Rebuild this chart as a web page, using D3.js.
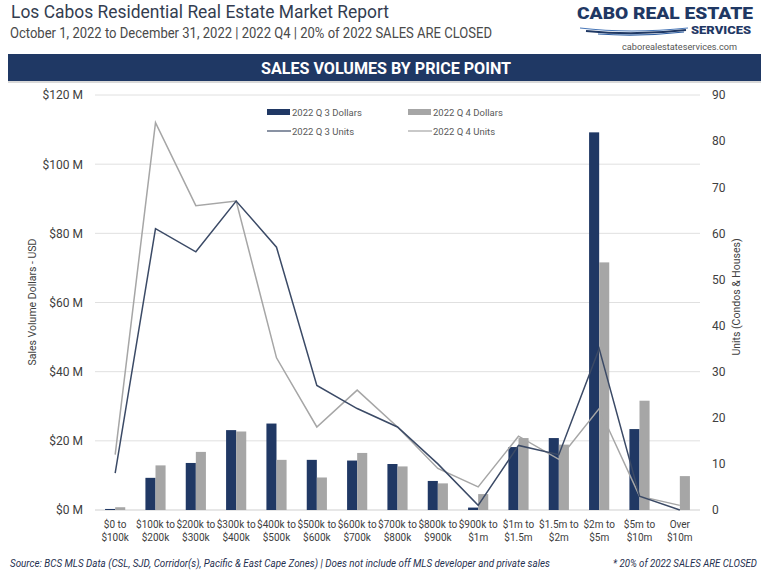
<!DOCTYPE html>
<html><head><meta charset="utf-8">
<script src="https://cdn.jsdelivr.net/npm/d3@7/dist/d3.min.js"></script>
<style>body{margin:0;background:#fff}svg{display:block;font-family:Roboto,"Open Sans",sans-serif}</style>
</head><body><svg id="c" width="768" height="588"></svg>
<script>
const categories = [["$0 to","$100k"],["$100k to","$200k"],["$200k to","$300k"],["$300k to","$400k"],["$400k to","$500k"],["$500k to","$600k"],["$600k to","$700k"],["$700k to","$800k"],["$800k to","$900k"],["$900k to","$1m"],["$1m to","$1.5m"],["$1.5m to","$2m"],["$2m to","$5m"],["$5m to","$10m"],["Over","$10m"]];
const q3Dollars = [0.3, 9.3, 13.6, 23.1, 25.0, 14.5, 14.3, 13.3, 8.4, 0.7, 18.2, 20.8, 109.2, 23.4, 0];
const q4Dollars = [0.8, 12.9, 16.8, 22.7, 14.5, 9.4, 16.5, 12.6, 7.7, 4.6, 20.8, 18.9, 71.6, 31.6, 9.8];
const q3Units = [8, 61, 56, 67, 57, 27, 22, 18, 10, 1, 14, 12, 35, 3, 0];
const q4Units = [12, 84, 66, 67, 33, 18, 26, 18, 9, 5, 16, 11, 22, 3, 1];
const leftTicks = [0, 20, 40, 60, 80, 100, 120];
const rightTicks = [0, 10, 20, 30, 40, 50, 60, 70, 80, 90];

const svg = d3.select("#c");
const navy = "#203864", gray = "#a6a6a6", lineDark = "#3b4a66";
const keys = categories.map((d,i)=>i);
const x = d3.scaleBand().domain(keys).range([95, 700]);
const yL = d3.scaleLinear().domain([0,120]).range([510, 95]);
const yR = d3.scaleLinear().domain([0,90]).range([510, 95]);

// header
svg.append("text").attr("x",11).attr("y",18).attr("font-size",19).attr("fill","#333d50")
  .attr("textLength",378).attr("lengthAdjust","spacingAndGlyphs").text("Los Cabos Residential Real Estate Market Report");
svg.append("text").attr("x",10).attr("y",37.5).attr("font-size",14).attr("fill","#4a4a4a")
  .attr("textLength",482).attr("lengthAdjust","spacingAndGlyphs").text("October 1, 2022 to December 31, 2022 | 2022 Q4 | 20% of 2022 SALES ARE CLOSED");
// logo
svg.append("text").attr("x",577).attr("y",19).attr("font-size",16.5).attr("font-weight",900).attr("fill","#1f3864")
  .attr("textLength",176).attr("lengthAdjust","spacingAndGlyphs").text("CABO REAL ESTATE");
svg.append("text").attr("x",751).attr("y",34).attr("font-size",11).attr("font-weight",900).attr("fill","#1f3864")
  .attr("text-anchor","end").attr("textLength",60).attr("lengthAdjust","spacingAndGlyphs").text("SERVICES");
const sw = svg.append("g").attr("fill","none");
sw.append("path").attr("d","M580,28 Q630,34 688,28").attr("stroke","#4a78b8").attr("stroke-width",1.2);
sw.append("path").attr("d","M586,31 Q635,36 686,30").attr("stroke","#1f3864").attr("stroke-width",2);
sw.append("path").attr("d","M598,34 Q640,37 684,32").attr("stroke","#2e5fa3").attr("stroke-width",1.2);
svg.append("text").attr("x",737).attr("y",50).attr("font-size",9.5).attr("fill","#555").attr("text-anchor","end")
  .attr("textLength",115).attr("lengthAdjust","spacingAndGlyphs").text("caborealestateservices.com");
// banner
svg.append("rect").attr("x",8).attr("y",54).attr("width",753).attr("height",27).attr("fill","#1f3864");
svg.append("rect").attr("x",8).attr("y",81).attr("width",753).attr("height",2).attr("fill","#d9d9d9");
svg.append("text").attr("x",386).attr("y",74).attr("font-size",16).attr("font-weight","bold").attr("fill","#fff")
  .attr("text-anchor","middle").attr("textLength",250).attr("lengthAdjust","spacingAndGlyphs").text("SALES VOLUMES BY PRICE POINT");

// gridlines
svg.append("g").selectAll("line").data(leftTicks).join("line")
  .attr("x1",95).attr("x2",700).attr("y1",d=>yL(d)).attr("y2",d=>yL(d))
  .attr("stroke",d=>d===0?"#cfcfcf":"#e0e0e0").attr("stroke-width",1);

// left axis
const axL = svg.append("g").attr("transform","translate(95,0)")
  .call(d3.axisLeft(yL).tickValues(leftTicks).tickSize(0).tickPadding(12).tickFormat(d=>"$"+d+" M"));
axL.select(".domain").remove();
axL.selectAll("text").attr("font-size",12).attr("fill","#404040").attr("font-family","Roboto,sans-serif");
// right axis
const axR = svg.append("g").attr("transform","translate(700,0)")
  .call(d3.axisRight(yR).tickValues(rightTicks).tickSize(0).tickPadding(12));
axR.select(".domain").remove();
axR.selectAll("text").attr("font-size",12).attr("fill","#404040").attr("font-family","Roboto,sans-serif");

// axis titles
svg.append("text").attr("transform","translate(36,302) rotate(-90)").attr("text-anchor","middle")
  .attr("font-size",10.5).attr("fill","#404040").text("Sales Volume Dollars - USD");
svg.append("text").attr("transform","translate(740,297) rotate(-90)").attr("text-anchor","middle")
  .attr("font-size",10.5).attr("fill","#404040").text("Units (Condos & Houses)");

// bars
const bw = x.bandwidth()*0.25;
const cx = i => x(i) + x.bandwidth()/2;
svg.append("g").selectAll("rect").data(q3Dollars).join("rect")
  .attr("x",(d,i)=>cx(i)-bw).attr("width",bw).attr("y",d=>yL(d)).attr("height",d=>yL(0)-yL(d)).attr("fill",navy);
svg.append("g").selectAll("rect").data(q4Dollars).join("rect")
  .attr("x",(d,i)=>cx(i)).attr("width",bw).attr("y",d=>yL(d)).attr("height",d=>yL(0)-yL(d)).attr("fill",gray);

// lines
const line = d3.line().x((d,i)=>cx(i)).y(d=>yR(d));
svg.append("path").datum(q4Units).attr("d",line).attr("fill","none").attr("stroke",gray).attr("stroke-width",1.5);
svg.append("path").datum(q3Units).attr("d",line).attr("fill","none").attr("stroke",lineDark).attr("stroke-width",1.5);

// x labels
const xl = svg.append("g").selectAll("text").data(categories).join("text")
  .attr("text-anchor","middle").attr("font-size",10).attr("fill","#404040");
xl.append("tspan").attr("x",(d,i)=>cx(i)).attr("y",528).text(d=>d[0]);
xl.append("tspan").attr("x",(d,i)=>cx(i)).attr("y",541).text(d=>d[1]);

// legend
const lg = svg.append("g").attr("font-size",9.5).attr("fill","#595959");
lg.append("rect").attr("x",267).attr("y",109).attr("width",23).attr("height",6).attr("fill",navy);
lg.append("text").attr("x",292).attr("y",115.5).text("2022 Q 3 Dollars");
lg.append("rect").attr("x",408).attr("y",109).attr("width",23).attr("height",6).attr("fill",gray);
lg.append("text").attr("x",433).attr("y",115.5).text("2022 Q 4 Dollars");
lg.append("line").attr("x1",267).attr("x2",291).attr("y1",131).attr("y2",131).attr("stroke",lineDark).attr("stroke-width",1.2);
lg.append("text").attr("x",292).attr("y",134.5).text("2022 Q 3 Units");
lg.append("line").attr("x1",408).attr("x2",432).attr("y1",131).attr("y2",131).attr("stroke",gray).attr("stroke-width",1.2);
lg.append("text").attr("x",433).attr("y",134.5).text("2022 Q 4 Units");

// footer
svg.append("text").attr("x",10).attr("y",567).attr("font-size",10).attr("font-style","italic").attr("fill","#1f3050")
  .attr("textLength",540).attr("lengthAdjust","spacingAndGlyphs")
  .text("Source:  BCS MLS Data (CSL, SJD, Corridor(s), Pacific & East Cape Zones) | Does not include off MLS developer and private sales");
svg.append("text").attr("x",757).attr("y",567).attr("font-size",10).attr("font-style","italic").attr("fill","#1f3050")
  .attr("text-anchor","end").attr("textLength",144).attr("lengthAdjust","spacingAndGlyphs").text("* 20% of 2022 SALES ARE CLOSED");
</script></body></html>
